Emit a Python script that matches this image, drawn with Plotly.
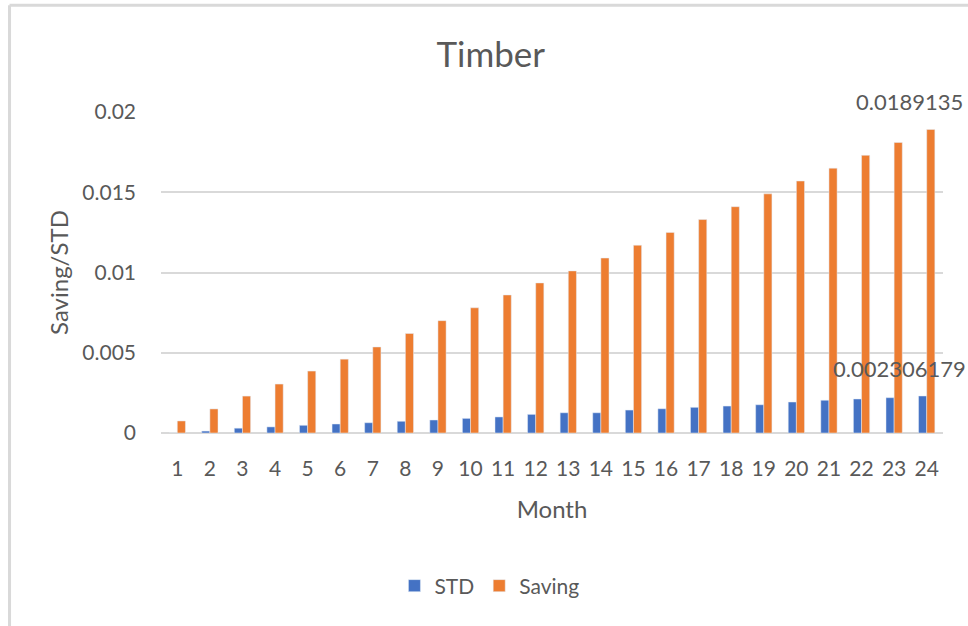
import plotly.graph_objects as go

months = [str(i) for i in range(1, 25)]
std_values = [0.0, 0.00012, 0.0003, 0.00038, 0.00048, 0.00056, 0.00064, 0.00073,
              0.00081, 0.00091, 0.001, 0.00116, 0.00126, 0.00126, 0.00143, 0.00151,
              0.0016, 0.00168, 0.00176, 0.00193, 0.00204, 0.00212, 0.0022, 0.002306179]
saving_values = [0.00075, 0.0015, 0.0023, 0.00305, 0.00386, 0.0046, 0.00536, 0.0062,
                 0.007, 0.0078, 0.0086, 0.00935, 0.0101, 0.0109, 0.0117, 0.0125,
                 0.0133, 0.0141, 0.0149, 0.0157, 0.0165, 0.0173, 0.0181, 0.0189135]
series_names = ["STD", "Saving"]
label_std = "0.002306179"
label_saving = "0.0189135"

BLUE = "#4472C4"
ORANGE = "#ED7D31"
GREY = "#595959"
FONT = "Lato, 'Open Sans', sans-serif"

fig = go.Figure()
fig.add_trace(go.Bar(x=months, y=std_values, name=series_names[0], marker_color=BLUE))
fig.add_trace(go.Bar(x=months, y=saving_values, name=series_names[1], marker_color=ORANGE))

# category index of the last month (numeric-looking category strings would be read as indices)
last_idx = len(months) - 1
fig.add_annotation(x=last_idx, y=saving_values[-1], text=label_saving, showarrow=False,
                   xanchor="right", yanchor="bottom", xshift=38, yshift=12,
                   font=dict(size=22, color=GREY, family=FONT))
fig.add_annotation(x=last_idx, y=std_values[-1], text=label_std, showarrow=False,
                   xanchor="right", yanchor="bottom", xshift=41, yshift=12,
                   font=dict(size=22, color=GREY, family=FONT))

# chart-area frame (left and top edges visible)
fig.add_shape(type="line", xref="paper", yref="paper", x0=-0.1937, x1=-0.1937, y0=1.3324, y1=-0.8,
              line=dict(color="#d9d9d9", width=3))
fig.add_shape(type="line", xref="paper", yref="paper", x0=-0.1937, x1=1.2, y0=1.3324, y1=1.3324,
              line=dict(color="#d9d9d9", width=3))

fig.update_layout(
    width=968, height=626,
    margin=dict(l=161, r=25, t=112, b=193),
    paper_bgcolor="white", plot_bgcolor="white",
    font=dict(family=FONT, color=GREY, size=21),
    title=dict(text="Timber", x=0.507, xanchor="center", xref="container",
               y=1 - 55 / 626, yanchor="middle", yref="container",
               font=dict(size=35, color=GREY, family=FONT)),
    barmode="group", bargap=0.5, bargroupgap=0,
    showlegend=True,
    legend=dict(orientation="h", x=0.42, xanchor="center", y=-0.4766, yanchor="middle",
                font=dict(size=21, color=GREY, family=FONT), itemwidth=30,
                traceorder="normal"),
)
fig.update_xaxes(type="category", range=[-0.5, len(months) - 0.5], autorange=False,
                 showgrid=False, showline=False, ticks="",
                 tickfont=dict(size=21, color=GREY), ticklabelstandoff=21,
                 title=dict(text="Month", font=dict(size=24, color=GREY), standoff=22))
fig.update_yaxes(range=[0, 0.02], autorange=False, dtick=0.005, showgrid=True,
                 gridcolor="#d9d9d9", gridwidth=2,
                 zeroline=True, zerolinecolor="#d9d9d9", zerolinewidth=2, showline=False,
                 ticks="", tickfont=dict(size=21, color=GREY), ticklabelstandoff=24,
                 title=dict(text="Saving/STD", font=dict(size=24, color=GREY), standoff=6))

fig.write_html("out.html", config={"displayModeBar": False},
               post_script="document.body.style.margin='0';")
